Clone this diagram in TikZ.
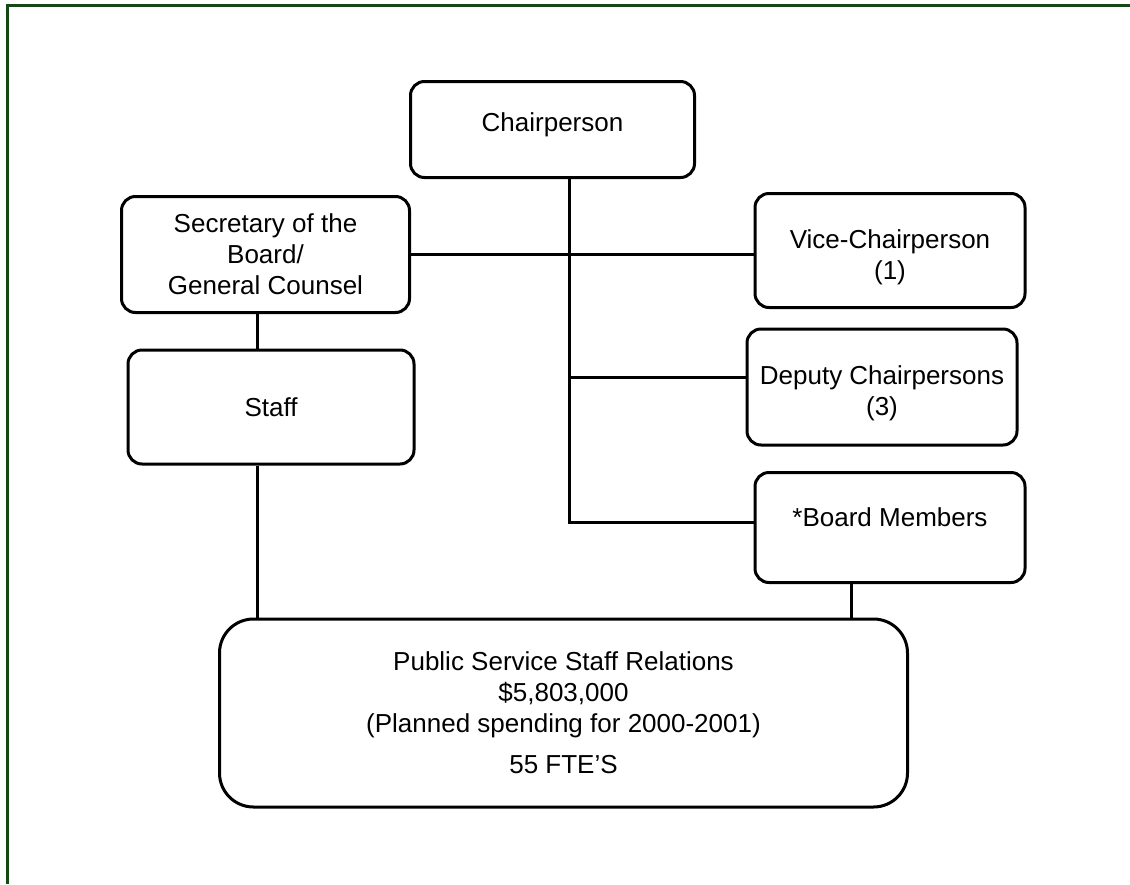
\documentclass[tikz,border=0pt]{standalone}
\usepackage{fontspec}
\setmainfont{Liberation Sans}
\usetikzlibrary{calc}
\definecolor{framegreen}{RGB}{22,72,22}

\begin{document}
\begin{tikzpicture}[x=0.5pt,y=-0.5pt,
        box/.style={draw,line width=1.5pt,rounded corners=7pt,align=center,inner sep=2pt,
            font=\fontsize{13}{15.5}\selectfont},
        link/.style={line width=1.5pt},
        frame/.style={line width=1.5pt,draw=framegreen}]
        \useasboundingbox (0,0) rectangle (1130,884);
        \draw [frame] (7,884) -- (7,5.5) -- (1130,5.5);

        \node [box,minimum width=142pt,minimum height=48pt,text depth=7.5pt] (chair) at (552.5,129.5) {Chairperson};
        \node [box,minimum width=144pt,minimum height=58pt] (sec) at (265.5,254.5) {Secretary of the\\Board/\\General Counsel};
        \node [box,minimum width=135pt,minimum height=57pt,text height=32pt] (vice) at (890,250.5) {Vice-Chairperson\\(1)};
        \node [box,minimum width=135pt,minimum height=58pt,text height=31.5pt] (dep) at (882,387) {Deputy Chairpersons\\(3)};
        \node [box,minimum width=135pt,minimum height=55pt,text depth=10pt] (board) at (890,527.5) {*Board Members};
        \node [box,minimum width=143pt,minimum height=57pt] (staff) at (271,407) {Staff};
        \node [box,rounded corners=17pt,minimum width=344pt,minimum height=94pt] (pss) at (563.5,713)
            {Public Service Staff Relations\\\$5,803,000\\(Planned spending for 2000-2001)\\[5pt]55 FTE’S};

        \coordinate (spine) at (569,0);
        \coordinate (stem) at (257,0);
        \coordinate (drop) at (851,0);
        \draw [link] (sec.east) -- (sec.east -| vice.west);
        \draw [link] (chair.south -| spine) |- (board.178);
        \draw [link] (spine |- dep.176) -- (dep.176);
        \draw [link] (sec.south -| stem) -- (staff.north -| stem);
        \draw [link] (staff.south -| stem) -- (pss.north -| stem);
        \draw [link] (board.south -| drop) -- (pss.north -| drop);
    \end{tikzpicture}
\end{document}
